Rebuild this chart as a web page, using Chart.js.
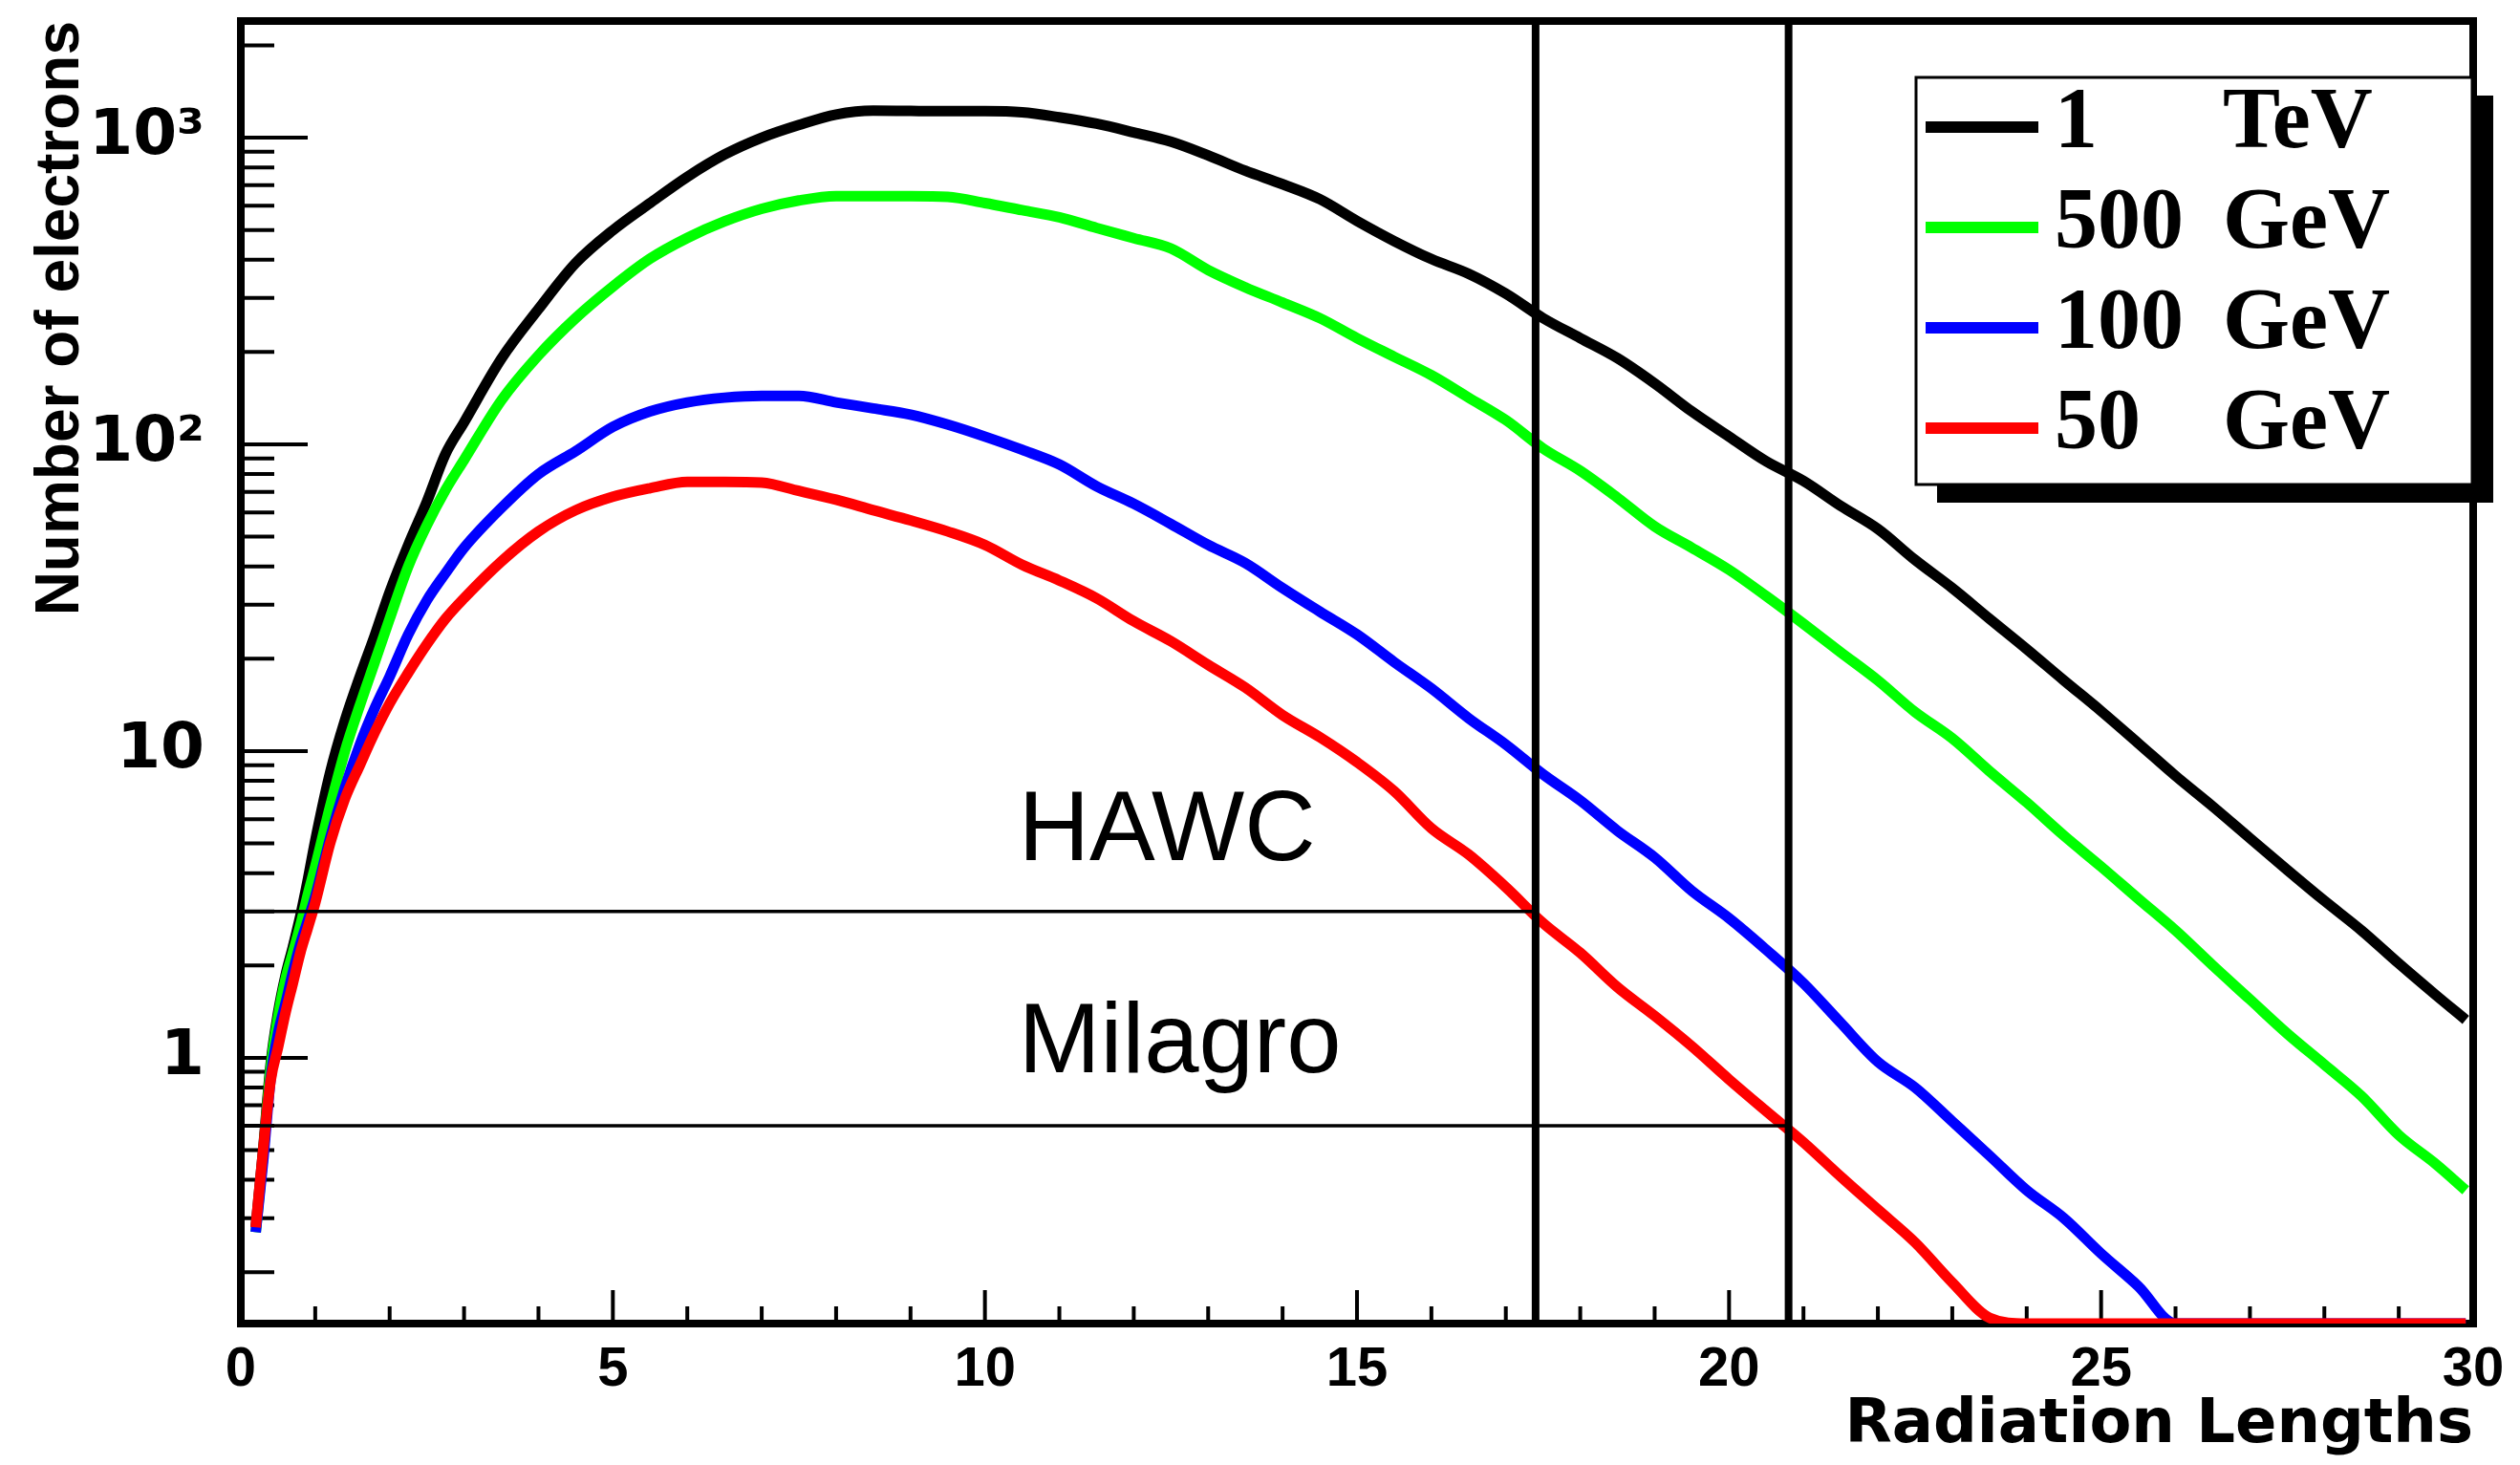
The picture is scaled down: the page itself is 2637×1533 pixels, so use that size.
<!DOCTYPE html>
<html>
<head>
<meta charset="utf-8">
<script src="https://cdn.jsdelivr.net/npm/chart.js@4.4.1/dist/chart.umd.min.js"></script>
<style>
  html, body { margin: 0; padding: 0; background: #ffffff; }
  #wrap { width: 2637px; height: 1533px; position: relative; }
</style>
</head>
<body>
<div id="wrap"><canvas id="c"></canvas></div>
<script>
// ---------------- data ----------------
const xValues = [0.2,0.3,0.4,0.5,0.6,0.7,0.8,0.9,1.0,1.2,1.4,1.6,1.8,2.0,2.25,2.5,2.75,3.0,
  3.5,4.0,4.5,5.0,5.5,6.0,6.5,7.0,7.5,8.0,8.5,9.0,9.5,10.0,10.5,11.0,11.5,12.0,12.5,13.0,13.5,14.0,
  14.5,15.0,15.5,16.0,16.5,17.0,17.5,18.0,18.5,19.0,19.5,20.0,20.5,21.0,21.5,22.0,22.5,23.0,23.5,
  24.0,24.5,25.0,25.5,26.0,26.5,27.0,27.5,28.0,28.5,29.0,29.5,29.9];

const electrons1TeV = [0.28,0.5,0.95,1.4,1.85,2.3,2.9,3.8,5.1,8.5,12.6,17.5,23.8,33,47,65,93,118,
  190,276,390,499,612,745,881,1000,1100,1190,1225,1222,1220,1220,1210,1165,1110,1040,970,875,780,705,
  630,535,460,402,360,310,258,222,191,158,128,106,88,76,63,53,42,34,27,
  21.5,17,13.5,10.6,8.3,6.6,5.2,4.1,3.25,2.6,2.03,1.6,1.33];

const electrons500GeV = [0.27,0.48,0.92,1.35,1.8,2.2,2.7,3.4,4.2,6.6,10,14.1,19.5,27,40,54.5,71,89,
  139,195,258,327,403,471,533,586,624,645,645,645,641,612,580,550,508,470,435,370,325,290,
  258,222,193,168,142,120,97,82,67,54,46,39,32,26,21,17,13.4,11,8.6,
  6.8,5.3,4.2,3.3,2.6,2.0,1.55,1.2,0.95,0.75,0.56,0.45,0.37];

const electrons100GeV = [0.27,0.46,0.85,1.2,1.5,1.9,2.35,2.8,3.35,5.2,7.6,10.5,13.8,17.5,24,31,38,46,
  62,80,95,114,128,137,142,144,144,137,131,125,116,106,96,86,73,64,55,47,41,34,
  28.5,24,19.5,16,12.8,10.5,8.4,6.9,5.5,4.5,3.5,2.85,2.25,1.75,1.3,0.97,0.8,0.62,0.48,
  0.37,0.3,0.23,0.18,0,0,0,0,0,0,0,0,0];

const electrons50GeV = [0.28,0.5,0.84,1.08,1.4,1.75,2.2,2.65,3.2,5.0,7.0,9.0,11.5,14.3,18,22.3,27,31.5,
  41.5,52,61,67.5,72,75.5,75.5,75,70.5,66,61,56.5,52,47,40.5,36,31.5,26.5,22.8,19.1,16.1,13.1,
  11.1,9.2,7.4,5.6,4.6,3.6,2.75,2.2,1.7,1.37,1.09,0.85,0.67,0.53,0.41,0.32,0.25,0.185,0.142,
  0,0,0,0,0,0,0,0,0,0,0,0,0];

const seriesLabels = ['1 TeV', '500 GeV', '100 GeV', '50 GeV'];

const xTickLabelValues = [0, 5, 10, 15, 20, 25, 30];
const yMajorTicks = [1, 10, 100, 1000];
const yTickLabels = ['1', '10', '10\u00B2', '10\u00B3'];
const yMinorTicks = [0.2,0.3,0.4,0.5,0.6,0.7,0.8,0.9, 2,3,4,5,6,7,8,9, 20,30,40,50,60,70,80,90,
  200,300,400,500,600,700,800,900, 2000];

const detectorNames = ['HAWC', 'Milagro'];
const detectorThresholds = [3, 0.6];      // electrons
const detectorDepths = [17.4, 20.8];      // radiation lengths
const detectorLabelAnchor = [[10.45, 4.4], [10.45, 0.9]];

const X_MIN = 0, X_MAX = 30, Y_MIN = 0.136, Y_MAX = 2400;

// ---------------- styles ----------------
const seriesColors = ['#000000', '#00ff00', '#0000ff', '#ff0000'];
const seriesOrder = [4, 3, 2, 1];   // red drawn on top, as in the original
const allSeries = [electrons1TeV, electrons500GeV, electrons100GeV, electrons50GeV];

// empty bins (0) sit on the frame floor, as in ROOT log plots
const toPoints = arr => xValues.map((x, i) => ({ x: x, y: arr[i] === 0 ? Y_MIN : arr[i] }));

const datasets = allSeries.map((arr, i) => ({
  label: seriesLabels[i],
  data: toPoints(arr),
  borderColor: seriesColors[i],
  backgroundColor: seriesColors[i],
  borderWidth: 11,
  pointRadius: 0,
  cubicInterpolationMode: 'monotone',
  borderJoinStyle: 'round',
  order: seriesOrder[i]
}));

detectorDepths.forEach(d => datasets.push({
  label: '_depth',
  data: [{ x: d, y: Y_MIN }, { x: d, y: Y_MAX }],
  borderColor: '#000', borderWidth: 8, pointRadius: 0, order: 0
}));
detectorThresholds.forEach((t, i) => datasets.push({
  label: '_threshold',
  data: [{ x: X_MIN, y: t }, { x: detectorDepths[i], y: t }],
  borderColor: '#000', borderWidth: 3.5, pointRadius: 0, order: 0
}));

const yAllTicks = yMinorTicks.concat(yMajorTicks).sort((a, b) => a - b);

const frameTicks = {
  id: 'frameTicks',
  beforeDatasetsDraw(chart) {
    const { ctx, chartArea: ca } = chart;
    const xs = chart.scales.x, ys = chart.scales.y;
    ctx.save();
    ctx.strokeStyle = '#000';
    ctx.lineWidth = 4;
    ctx.beginPath();
    xs.ticks.forEach(t => {
      if (t.value <= X_MIN || t.value >= X_MAX) return;
      const px = xs.getPixelForValue(t.value);
      const len = xTickLabelValues.includes(t.value) ? 35 : 18;
      ctx.moveTo(px, ca.bottom);
      ctx.lineTo(px, ca.bottom - len);
    });
    yAllTicks.forEach(v => {
      const py = ys.getPixelForValue(v);
      const len = yMajorTicks.includes(v) ? 70 : 35;
      ctx.moveTo(ca.left, py);
      ctx.lineTo(ca.left + len, py);
    });
    ctx.stroke();
    ctx.lineWidth = 8;
    ctx.beginPath();
    ctx.moveTo(ca.left - 4, ca.top);
    ctx.lineTo(ca.right + 4, ca.top);
    ctx.moveTo(ca.right, ca.top);
    ctx.lineTo(ca.right, ca.bottom + 4);
    ctx.stroke();
    ctx.restore();
  },
  afterDatasetsDraw(chart) {
    const { ctx } = chart;
    const xs = chart.scales.x, ys = chart.scales.y;
    ctx.save();
    ctx.fillStyle = '#000';
    ctx.font = '103px "Liberation Sans", Arial, sans-serif';
    ctx.textAlign = 'left';
    ctx.textBaseline = 'alphabetic';
    detectorNames.forEach((name, i) => {
      const [ax, ay] = detectorLabelAnchor[i];
      ctx.fillText(name, xs.getPixelForValue(ax), ys.getPixelForValue(ay));
    });
    ctx.restore();
  },
  afterDraw(chart) {
    const { ctx } = chart;
    const box = { l: 2005, t: 81, r: 2587, b: 507 };
    const w = box.r - box.l, h = box.b - box.t;
    ctx.save();
    ctx.fillStyle = '#000';
    ctx.fillRect(box.l + 22, box.t + 19, w, h);
    ctx.fillStyle = '#fff';
    ctx.fillRect(box.l, box.t, w, h);
    ctx.strokeStyle = '#000';
    ctx.lineWidth = 3;
    ctx.strokeRect(box.l, box.t, w, h);
    ctx.font = 'bold 90px "Liberation Serif", "Times New Roman", serif';
    ctx.textBaseline = 'middle';
    ctx.textAlign = 'left';
    seriesLabels.forEach((lab, i) => {
      const cy = 133 + i * 105;
      ctx.strokeStyle = seriesColors[i];
      ctx.lineWidth = 12;
      ctx.beginPath();
      ctx.moveTo(2015, cy);
      ctx.lineTo(2133, cy);
      ctx.stroke();
      const parts = lab.split(' ');
      ctx.fillStyle = '#000';
      ctx.fillText(parts[0], 2150, cy - 2);
      ctx.fillText(parts[1], 2326, cy - 2);
    });
    ctx.restore();
  }
};

new Chart(document.getElementById('c'), {
  type: 'line',
  data: { datasets: datasets },
  plugins: [frameTicks],
  options: {
    responsive: true,
    maintainAspectRatio: false,
    animation: false,
    layout: { padding: { left: 0, top: 22, right: 49, bottom: 0 } },
    plugins: { legend: { display: false }, tooltip: { enabled: false } },
    elements: { point: { radius: 0 }, line: { tension: 0 } },
    scales: {
      x: {
        type: 'linear', min: X_MIN, max: X_MAX,
        ticks: {
          stepSize: 1, autoSkip: false, maxRotation: 0, padding: 14, color: '#000',
          font: { family: '"Liberation Sans Narrow", "Liberation Sans", Arial, sans-serif', size: 58, weight: 'bold' },
          callback: v => xTickLabelValues.includes(v) ? String(v) : ''
        },
        grid: { display: false, drawTicks: false },
        border: { display: true, color: '#000', width: 8 },
        title: {
          display: true, text: 'Radiation Lengths', align: 'end', color: '#000',
          font: { family: '"DejaVu Sans", sans-serif', size: 64, weight: 'bold', lineHeight: 1 },
          padding: { top: 0, bottom: 9 }
        },
        afterFit: s => { s.height = 148; s.paddingLeft = 0; s.paddingRight = 0; }
      },
      y: {
        type: 'logarithmic', min: Y_MIN, max: Y_MAX,
        afterBuildTicks: s => { s.ticks = yAllTicks.map(v => ({ value: v, major: yMajorTicks.includes(v) })); },
        ticks: {
          autoSkip: false, padding: 38, color: '#000',
          font: { family: '"DejaVu Sans", sans-serif', size: 66, weight: 'bold' },
          callback: v => { const i = yMajorTicks.indexOf(v); return i >= 0 ? yTickLabels[i] : ''; }
        },
        grid: { display: false, drawTicks: false },
        border: { display: true, color: '#000', width: 8 },
        title: {
          display: true, text: 'Number of electrons', align: 'end', color: '#000',
          font: { family: '"Liberation Sans", Arial, sans-serif', size: 64, weight: 'bold', lineHeight: 1.2 },
          padding: { top: 26, bottom: 0 }
        },
        afterFit: s => { s.width = 252; s.paddingTop = 0; s.paddingBottom = 0; }
      }
    }
  }
});
</script>
</body>
</html>
